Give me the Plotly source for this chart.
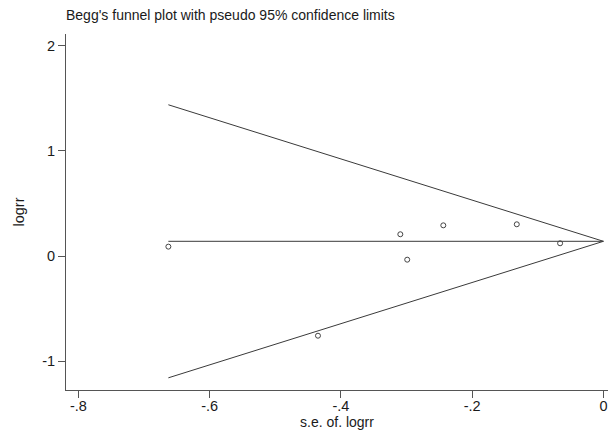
import plotly.graph_objects as go

# Study points: negative s.e. (as plotted) and logrr
se_neg = [-0.663, -0.3095, -0.299, -0.244, -0.132, -0.066, -0.435]
logrr = [0.089, 0.207, -0.035, 0.292, 0.302, 0.121, -0.759]

# Pooled estimate line and pseudo 95% limits
line_se = [-0.663, 0.0]
pooled = [0.14, 0.14]
upper_limit = [1.44, 0.14]
lower_limit = [-1.16, 0.14]

x_ticks = [-0.8, -0.6, -0.4, -0.2, 0]
x_tick_labels = ["-.8", "-.6", "-.4", "-.2", "0"]
y_ticks = [-1, 0, 1, 2]
y_tick_labels = ["-1", "0", "1", "2"]

line_color = "#3a3a3a"
font_family = "Liberation Sans, Arial, sans-serif"

fig = go.Figure()
for ys in (upper_limit, pooled, lower_limit):
    fig.add_trace(go.Scatter(x=line_se, y=ys, mode="lines",
                             line=dict(color=line_color, width=1),
                             showlegend=False, hoverinfo="skip"))
fig.add_trace(go.Scatter(x=se_neg, y=logrr, mode="markers",
                         marker=dict(symbol="circle-open", size=5,
                                     color="#444444", line=dict(width=1)),
                         showlegend=False))

fig.update_layout(
    width=609, height=431,
    margin=dict(l=66, r=1, t=34, b=41),
    paper_bgcolor="white", plot_bgcolor="white",
    font=dict(family=font_family, size=14.5, color="#1a1a1a"),
    title=dict(text="Begg's funnel plot with pseudo 95% confidence limits",
               x=0, xref="paper", xanchor="left",
               y=1 - 15 / 431, yref="container", yanchor="middle",
               font=dict(size=14, family=font_family, color="#1a1a1a")),
    xaxis=dict(range=[-0.819, 0.007], tickvals=x_ticks, ticktext=x_tick_labels,
               showgrid=False, zeroline=False, showline=True,
               linecolor="#555555", linewidth=1,
               ticks="outside", ticklen=7, tickcolor="#555555",
               ticklabelstandoff=-4,
               title=dict(text="s.e. of. logrr", standoff=0,
                          font=dict(size=14))),
    yaxis=dict(range=[-1.276, 2.114], tickvals=y_ticks, ticktext=y_tick_labels,
               showgrid=False, zeroline=False, showline=True,
               linecolor="#555555", linewidth=1,
               ticks="outside", ticklen=7, tickcolor="#555555",
               title=dict(text="logrr", standoff=14, font=dict(size=14.5))),
)

fig.write_html("out.html",
               config={"displayModeBar": False},
               post_script="document.body.style.margin='0';"
                           "document.body.style.overflow='hidden';")
